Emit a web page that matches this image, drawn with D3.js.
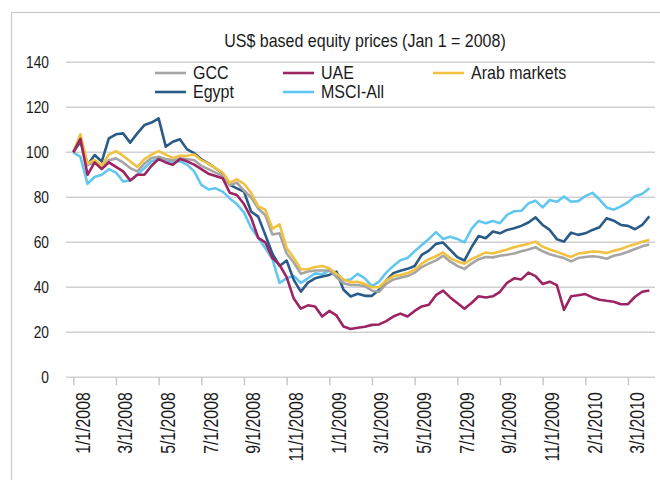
<!DOCTYPE html>
<html>
<head>
<meta charset="utf-8">
<script src="https://cdn.jsdelivr.net/npm/d3@7/dist/d3.min.js"></script>
<style>
    html, body { margin: 0; padding: 0; background: #fff; }
    svg { display: block; }
    text { font-family: 'Liberation Sans', Arial, sans-serif; fill: #1a1a1a; }
</style>
</head>
<body>
<svg id="chart" width="660" height="480"></svg>
<script>
// tick labels along the category axis (one every 6 samples)
var tickLabels = ['1/1/2008', '3/1/2008', '5/1/2008', '7/1/2008', '9/1/2008', '11/1/2008', '1/1/2009',
    '3/1/2009', '5/1/2009', '7/1/2009', '9/1/2009', '11/1/2009', '2/1/2010', '3/1/2010'];
var yTicks = [0, 20, 40, 60, 80, 100, 120, 140];

var seriesNames = ['GCC', 'UAE', 'Arab markets', 'Egypt', 'MSCI-All'];

// values, roughly one sample per week
var gcc = [100, 106, 94.5, 95.5, 93, 96.5, 97.3, 95.5, 93, 91.5, 95, 97.5, 98, 97, 96.5, 97.3, 97, 96.5, 94, 92.5,
    91, 89.5, 85.5, 86.5, 83, 80, 75, 72, 63.5, 64, 55, 51, 46, 47, 47.5, 47.5, 47.5, 44.5, 41.8, 41,
    41, 40.5, 38.5, 38, 41.5, 43.5, 44.3, 45, 46.5, 49, 50.5, 52, 54, 51.5, 49.5, 48.2, 50.5, 52.5, 53.5, 53.3,
    54, 54.5, 55, 56, 56.8, 57.8, 56, 54.7, 53.8, 53, 51.5, 53, 53.5, 53.8, 53.5, 52.7, 54, 54.7, 55.8, 57,
    58.2, 59];
var uae = [100, 106, 90, 95.5, 92.5, 95.5, 93.5, 91.5, 87.5, 90, 90, 94, 97, 95.5, 94.5, 97, 96, 94.5, 92.5, 90.5,
    89.5, 88.5, 82, 81, 77, 71, 62, 60, 53, 50, 44.5, 35, 30.5, 32, 31.5, 27, 29.5, 27.5, 22.6, 21.5,
    22, 22.5, 23.3, 23.5, 25, 27, 28.3, 27, 29.5, 31.5, 32.2, 36.5, 38.5, 35.5, 33, 30.5, 33, 36, 35.5, 36,
    38, 42, 44, 43.5, 46.5, 45, 41.5, 42.5, 41, 30, 36, 36.5, 37, 35.5, 34.5, 34, 33.6, 32.5, 32.5, 35.8,
    38, 38.6];
var arab = [100, 108, 95, 96.6, 94, 99, 100.5, 98.5, 96, 93.5, 97, 99, 100.5, 99, 97.5, 98.5, 98.5, 99, 96.5, 95,
    93, 91, 86.5, 88, 86, 82, 76, 74.5, 66, 68, 57.5, 53, 48, 48, 49, 49.5, 48.5, 46, 43.5, 42.3,
    42.5, 41.5, 40, 40, 43, 45, 45.5, 46.3, 47.8, 50.5, 52.5, 53.8, 55.5, 53, 51.5, 50.5, 52.5, 54, 55.5, 55,
    55.9, 56.8, 57.8, 58.6, 59.3, 60.3, 58, 56.8, 55.8, 54.6, 53.5, 55, 55.4, 55.9, 55.8, 55.2, 56.2, 57, 58.2, 59.1,
    60.2, 61];
var egypt = [100, 104.7, 94.4, 98.8, 95.9, 106.2, 108, 108.4, 104.3, 108.4, 112.1, 113.2, 115.1, 102.5, 104.7, 105.8, 101.3, 99.6, 96.9, 95.1,
    92.9, 90.7, 85.5, 84, 82.5, 73.7, 71.4, 63.3, 54.9, 49.5, 51.9, 43.3, 38.1, 42.1, 44, 44.8, 45.5, 47, 38.9, 35.9,
    37.1, 36.2, 36.2, 38.9, 43, 46.3, 47.4, 48.2, 49.5, 54.4, 56.3, 59.3, 59.9, 56.6, 53.4, 51.9, 57.8, 62.8, 61.8, 64.8,
    64, 65.5, 66.2, 67.3, 68.8, 71.1, 67.7, 65.5, 61.4, 60.3, 64.3, 63.3, 64, 65.5, 66.7, 70.7, 69.6, 67.7, 67.3, 65.8,
    67.7, 71.5];
var msci = [100, 98, 86, 89, 90, 92.5, 91, 87, 87.5, 90, 93, 96, 97.2, 96.5, 95.8, 96, 94.5, 91.5, 85.5, 83.5,
    84, 82.5, 79.5, 77, 73.3, 66.5, 62, 57.4, 52.5, 42, 44, 45, 42, 44, 46.2, 45.8, 47.5, 46.5, 43, 43.5,
    46, 44, 40.5, 42.5, 46.5, 49.5, 52, 53, 56, 58.8, 61.5, 64.5, 61.5, 62.5, 61.5, 60, 66, 69.5, 68.5, 69.5,
    68.5, 72.2, 73.8, 74, 77.3, 78.5, 75.5, 78.8, 78, 80.3, 78, 78.3, 80.5, 82, 79, 75.5, 74.5, 76, 77.8, 80.5,
    81.5, 84];

var colors = {
    'GCC': '#a5a5a5',
    'UAE': '#9c2462',
    'Arab markets': '#f1c142',
    'Egypt': '#2a5b88',
    'MSCI-All': '#62c7f0'
};
var values = { 'GCC': gcc, 'UAE': uae, 'Arab markets': arab, 'Egypt': egypt, 'MSCI-All': msci };

// squeeze Liberation Sans to look like the narrow face of the original
var narrowAxis = 0.82,
    narrowText = 0.89;

var svg = d3.select('#chart');

// outer frame of the chart box (runs off the right and bottom edges)
svg.append('rect')
    .attr('x', 11.5).attr('y', 12.5)
    .attr('width', 700).attr('height', 500)
    .attr('fill', 'none').attr('stroke', '#c8c8c8').attr('stroke-width', 1.2);

var xScale = d3.scaleLinear().domain([0, gcc.length - 1]).range([73.3, 649.3]),
    yScale = d3.scaleLinear().domain([0, 140]).range([377.3, 62.3]);

var left = 66, right = 655;

// grid
svg.append('g').selectAll('line')
    .data(yTicks)
    .enter()
    .append('line')
    .attr('x1', left).attr('x2', right)
    .attr('y1', function (d) { return yScale(d); })
    .attr('y2', function (d) { return yScale(d); })
    .attr('stroke', '#d0d0d0')
    .attr('stroke-width', 1.5);

// y labels
svg.append('g').selectAll('text')
    .data(yTicks)
    .enter()
    .append('text')
    .attr('transform', function (d) { return 'translate(49,' + yScale(d) + ') scale(' + narrowAxis + ',1)'; })
    .attr('dy', '0.36em')
    .attr('text-anchor', 'end')
    .style('font-size', '16.8px')
    .text(function (d) { return d; });

// x axis, ticks every 6 samples
var tickIdx = tickLabels.map(function (d, i) { return i * 6; });
var xAxis = d3.axisBottom(xScale)
    .tickValues(tickIdx)
    .tickSize(8)
    .tickSizeOuter(0)
    .tickFormat(function (d, i) { return tickLabels[i]; });

var gx = svg.append('g')
    .attr('transform', 'translate(0,' + yScale(0) + ')')
    .call(xAxis);
gx.select('.domain').remove();
gx.attr('font-family', null).attr('font-size', null);
gx.selectAll('.tick line').attr('stroke', '#c8c8c8').attr('stroke-width', 1.5);
gx.selectAll('.tick text')
    .attr('transform', 'rotate(-90) scale(' + narrowAxis + ',1)')
    .attr('x', -15 / narrowAxis)
    .attr('y', 9)
    .attr('dy', '0.36em')
    .attr('text-anchor', 'end')
    .style('font-size', '19.3px')
    .attr('fill', '#1a1a1a');

// lines
var line = d3.line()
    .x(function (d, i) { return xScale(i); })
    .y(function (d) { return yScale(d); });

var drawOrder = ['MSCI-All', 'Egypt', 'GCC', 'Arab markets', 'UAE'];
svg.append('g').selectAll('path')
    .data(drawOrder)
    .enter()
    .append('path')
    .attr('d', function (k) { return line(values[k]); })
    .attr('fill', 'none')
    .attr('stroke', function (k) { return colors[k]; })
    .attr('stroke-width', 2.6)
    .attr('stroke-linejoin', 'round');

// title
svg.append('text')
    .attr('transform', 'translate(365,47) scale(' + narrowText + ',1)')
    .attr('text-anchor', 'middle')
    .style('font-size', '18px')
    .text('US$ based equity prices (Jan 1 = 2008)');

// legend
var legendPos = [[155, 73], [283, 73], [433, 73], [155, 92], [283, 92]];
var lg = svg.append('g').selectAll('g')
    .data(seriesNames)
    .enter()
    .append('g')
    .attr('transform', function (d, i) { return 'translate(' + legendPos[i][0] + ',' + legendPos[i][1] + ')'; });
lg.append('line')
    .attr('x1', 0).attr('x2', 31)
    .attr('stroke', function (d) { return colors[d]; })
    .attr('stroke-width', 2.6);
lg.append('text')
    .attr('transform', 'translate(38,0) scale(' + narrowText + ',1)')
    .attr('dy', '0.36em')
    .style('font-size', '18px')
    .text(function (d) { return d; });
</script>
</body>
</html>
